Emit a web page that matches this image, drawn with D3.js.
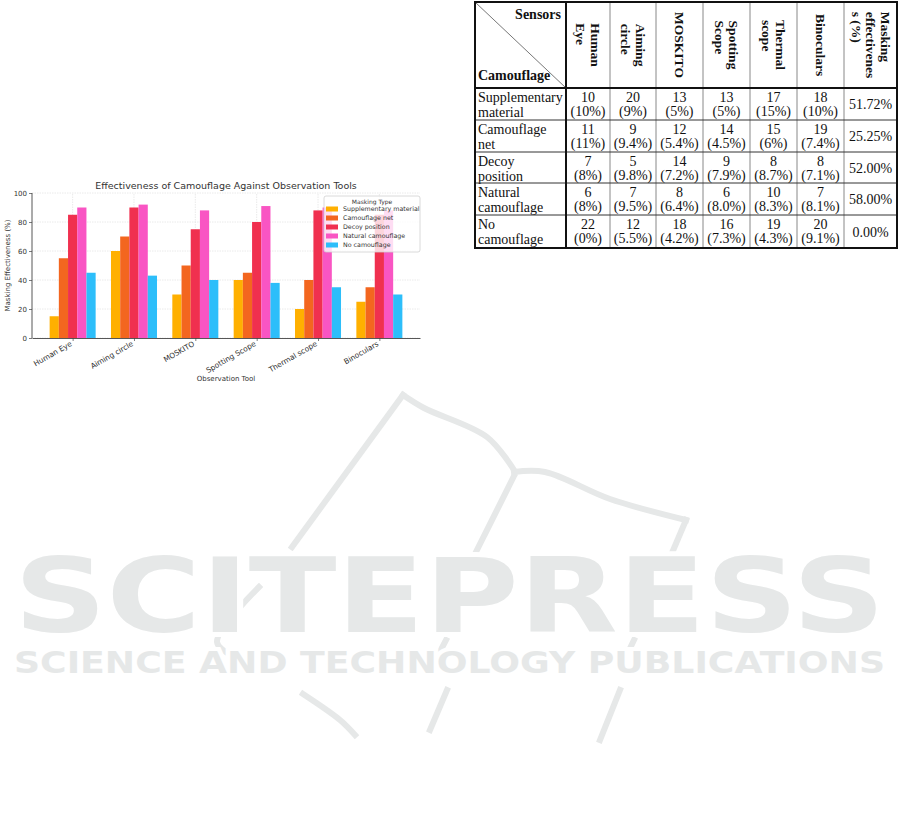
<!DOCTYPE html>
<html>
<head>
<meta charset="utf-8">
<script src="https://cdn.jsdelivr.net/npm/d3@7/dist/d3.min.js"></script>
<style>
  html, body { margin: 0; padding: 0; background: #fff; }
  svg { display: block; }
</style>
</head>
<body>
<svg id="page" width="901" height="822"></svg>
<script>
// ---------------- DATA ----------------
const tools = ["Human Eye", "Aiming circle", "MOSKITO", "Spotting Scope", "Thermal scope", "Binoculars"];
const maskingTypes = ["Supplementary material", "Camouflage net", "Decoy position", "Natural camouflage", "No camouflage"];
const supplementaryMaterial = [15, 60, 30, 40, 20, 25];
const camouflageNet = [55, 70, 50, 45, 40, 35];
const decoyPosition = [85, 90, 75, 80, 88, 85];
const naturalCamouflage = [90, 92, 88, 91, 90, 88];
const noCamouflage = [45, 43, 40, 38, 35, 30];
const yTicks = [0, 20, 40, 60, 80, 100];
const seriesColors = ["#FFB000", "#F3661F", "#F0304F", "#F955C3", "#2DBEFA"];

// Table data
const sensorHeaders = [["Human", "Eye"], ["Aiming", "circle"], ["MOSKITO"], ["Spotting", "Scope"], ["Thermal", "scope"], ["Binoculars"], ["Masking", "effectivenes", "s (%)"]];
const camouflageRows = [["Supplementary", "material"], ["Camouflage", "net"], ["Decoy", "position"], ["Natural", "camouflage"], ["No", "camouflage"]];
const countsSupplementary = ["10", "20", "13", "13", "17", "18"];
const countsCamoNet = ["11", "9", "12", "14", "15", "19"];
const countsDecoy = ["7", "5", "14", "9", "8", "8"];
const countsNatural = ["6", "7", "8", "6", "10", "7"];
const countsNone = ["22", "12", "18", "16", "19", "20"];
const pctSupplementary = ["(10%)", "(9%)", "(5%)", "(5%)", "(15%)", "(10%)"];
const pctCamoNet = ["(11%)", "(9.4%)", "(5.4%)", "(4.5%)", "(6%)", "(7.4%)"];
const pctDecoy = ["(8%)", "(9.8%)", "(7.2%)", "(7.9%)", "(8.7%)", "(7.1%)"];
const pctNatural = ["(8%)", "(9.5%)", "(6.4%)", "(8.0%)", "(8.3%)", "(8.1%)"];
const pctNone = ["(0%)", "(5.5%)", "(4.2%)", "(7.3%)", "(4.3%)", "(9.1%)"];
const maskingEffectiveness = ["51.72%", "25.25%", "52.00%", "58.00%", "0.00%"];

const series = [supplementaryMaterial, camouflageNet, decoyPosition, naturalCamouflage, noCamouflage];
const tableCounts = [countsSupplementary, countsCamoNet, countsDecoy, countsNatural, countsNone];
const tablePcts = [pctSupplementary, pctCamoNet, pctDecoy, pctNatural, pctNone];

const svg = d3.select("#page");
svg.append("rect").attr("width", 901).attr("height", 822).attr("fill", "#fff");

// ---------------- WATERMARK ----------------
const wm = svg.append("g").attr("class", "watermark");
const wmColor = "#e6e8e8";
const logoLines = [
  [[292, 547], [403, 395]],
  [[403, 395], [424, 408], [487, 437], [514, 470]],
  [[514, 472], [545, 472], [610, 499], [686, 520]],
  [[686, 520], [669, 560]],
  [[514, 476], [472, 560]],
  [[634, 640], [622, 665]],
  [[446, 640], [433, 665]],
  [[259, 587], [217, 642], [234, 656], [257, 660]],
  [[620, 690], [600, 740]],
  [[447, 690], [430, 730]],
  [[303, 694], [340, 720], [355, 735]]
];
const lineGen = d3.line().curve(d3.curveCatmullRom);
wm.selectAll("path.logo").data(logoLines).join("path")
  .attr("class", "logo")
  .attr("d", d => lineGen(d))
  .attr("fill", "none").attr("stroke", wmColor).attr("stroke-width", 6).attr("stroke-linecap", "square");
wm.append("text")
  .attr("x", 14).attr("y", 632)
  .attr("textLength", 871).attr("lengthAdjust", "spacingAndGlyphs")
  .style("font-family", "DejaVu Sans").style("font-weight", "bold").style("font-size", "104px")
  .attr("fill", wmColor).attr("stroke", "#fff").attr("stroke-width", 10).attr("paint-order", "stroke")
  .text("SCITEPRESS");
wm.append("text")
  .attr("x", 14).attr("y", 673)
  .attr("textLength", 871).attr("lengthAdjust", "spacingAndGlyphs")
  .style("font-family", "DejaVu Sans").style("font-weight", "bold").style("font-size", "31px")
  .attr("fill", wmColor).attr("stroke", "#fff").attr("stroke-width", 8).attr("paint-order", "stroke")
  .text("SCIENCE AND TECHNOLOGY PUBLICATIONS");

// ---------------- BAR CHART ----------------
const barW = 0.15;
const x = d3.scaleLinear().domain([-0.6625, 5.6625]).range([32, 420]);
const y = d3.scaleLinear().domain([0, 100]).range([338, 193]);
const chart = svg.append("g").style("font-family", "DejaVu Sans");

// grid
chart.append("g").selectAll("line").data(yTicks).join("line")
  .attr("x1", x.range()[0]).attr("x2", x.range()[1])
  .attr("y1", d => y(d)).attr("y2", d => y(d))
  .attr("stroke", "#e4e4e4").attr("stroke-width", 0.8).attr("stroke-dasharray", "1.5,1");
chart.append("g").selectAll("line").data(tools.map((t, i) => i)).join("line")
  .attr("x1", d => x(d)).attr("x2", d => x(d))
  .attr("y1", y(0)).attr("y2", y(100))
  .attr("stroke", "#e4e4e4").attr("stroke-width", 0.8).attr("stroke-dasharray", "1.5,1");

// bars
series.forEach((vals, k) => {
  chart.append("g").selectAll("rect").data(vals).join("rect")
    .attr("x", (d, i) => x(i + (k - 2) * barW - barW / 2))
    .attr("width", x(barW) - x(0))
    .attr("y", d => y(d))
    .attr("height", d => y(0) - y(d))
    .attr("fill", seriesColors[k]);
});

// axes
const yAxis = chart.append("g").attr("transform", `translate(${x.range()[0]},0)`)
  .call(d3.axisLeft(y).tickValues(yTicks).tickSize(3).tickPadding(2));
const xAxis = chart.append("g").attr("transform", `translate(0,${y(0)})`)
  .call(d3.axisBottom(x).tickValues(tools.map((t, i) => i)).tickFormat((d) => tools[d]).tickSize(3).tickPadding(2).tickSizeOuter(0));
[yAxis, xAxis].forEach(a => {
  a.select(".domain").attr("stroke", "#444").attr("stroke-width", 0.9);
  a.selectAll(".tick line").attr("stroke", "#444").attr("stroke-width", 0.7);
  a.selectAll(".tick text").attr("fill", "#333").style("font-family", "DejaVu Sans");
});
yAxis.selectAll(".tick text").style("font-size", "7px");
yAxis.select(".domain").attr("d", `M-0,${y(100)}V${y(0)}`);
xAxis.selectAll(".tick text")
  .style("font-size", "7.4px")
  .attr("text-anchor", "end")
  .attr("transform", "translate(-2,5) rotate(-30)")
  .attr("dy", "0.35em").attr("y", 0).attr("x", 0);

// titles
chart.append("text").attr("x", (x.range()[0] + x.range()[1]) / 2).attr("y", 189)
  .attr("text-anchor", "middle").attr("fill", "#333").style("font-size", "9.5px")
  .text("Effectiveness of Camouflage Against Observation Tools");
chart.append("text").attr("x", (x.range()[0] + x.range()[1]) / 2).attr("y", 381)
  .attr("text-anchor", "middle").attr("fill", "#333").style("font-size", "7px")
  .text("Observation Tool");
chart.append("text").attr("transform", `translate(10,${(y(0) + y(100)) / 2}) rotate(-90)`)
  .attr("text-anchor", "middle").attr("fill", "#333").style("font-size", "7px")
  .text("Masking Effectiveness (%)");

// legend
const lg = chart.append("g").attr("transform", "translate(324,196)");
lg.append("rect").attr("width", 96).attr("height", 56).attr("rx", 2)
  .attr("fill", "#fff").attr("fill-opacity", 0.8).attr("stroke", "#d0d0d0").attr("stroke-width", 0.8);
lg.append("text").attr("x", 48).attr("y", 7.5).attr("text-anchor", "middle")
  .attr("fill", "#333").style("font-size", "6px").text("Masking Type");
const lgItems = lg.selectAll("g.item").data(maskingTypes).join("g").attr("class", "item")
  .attr("transform", (d, i) => `translate(0,${13 + i * 9})`);
lgItems.append("rect").attr("x", 2).attr("y", -2.5).attr("width", 12).attr("height", 5)
  .attr("fill", (d, i) => seriesColors[i]);
lgItems.append("text").attr("x", 19).attr("y", 2.2).attr("fill", "#333")
  .style("font-size", "6.3px").text(d => d);

// ---------------- TABLE ----------------
const colEdges = [475, 566, 610, 656, 703, 750, 797, 844, 897];
const rowEdges = [2, 88, 120, 152, 183, 215, 248];
const tbl = svg.append("g").style("font-family", "Liberation Serif, Times New Roman, serif").attr("fill", "#111");

// header first cell
tbl.append("line").attr("x1", colEdges[0]).attr("y1", rowEdges[0]).attr("x2", colEdges[1]).attr("y2", rowEdges[1])
  .attr("stroke", "#777").attr("stroke-width", 1);
tbl.append("text").attr("x", colEdges[1] - 5).attr("y", 19).attr("text-anchor", "end")
  .style("font-weight", "bold").style("font-size", "14px").text("Sensors");
tbl.append("text").attr("x", colEdges[0] + 3).attr("y", 80)
  .style("font-weight", "bold").style("font-size", "14px").text("Camouflage");

// rotated headers
sensorHeaders.forEach((lines, j) => {
  const cx = (colEdges[j + 1] + colEdges[j + 2]) / 2;
  const cy = (rowEdges[0] + rowEdges[1]) / 2;
  const g = tbl.append("g").attr("transform", `translate(${cx},${cy}) rotate(90)`);
  const lh = 14.5;
  const n = lines.length;
  const texts = lines.map((ln, i) => g.append("text")
    .attr("y", (i - (n - 1) / 2) * lh + 4.5)
    .style("font-weight", "bold").style("font-size", "13.5px").text(ln));
  const maxLen = d3.max(texts, t => t.node().getComputedTextLength());
  texts.forEach(t => t.attr("x", -maxLen / 2));
});

// body rows
camouflageRows.forEach((lines, r) => {
  const top = rowEdges[r + 1];
  lines.forEach((ln, i) => tbl.append("text").attr("x", colEdges[0] + 3).attr("y", top + 13.5 + i * 15)
    .style("font-size", "14px").text(ln));
  tableCounts[r].forEach((c, j) => {
    const cx = (colEdges[j + 1] + colEdges[j + 2]) / 2;
    tbl.append("text").attr("x", cx).attr("y", top + 13.5).attr("text-anchor", "middle").style("font-size", "14px").text(c);
    tbl.append("text").attr("x", cx).attr("y", top + 28).attr("text-anchor", "middle").style("font-size", "14px").text(tablePcts[r][j]);
  });
  tbl.append("text").attr("x", (colEdges[7] + colEdges[8]) / 2).attr("y", (rowEdges[r + 1] + rowEdges[r + 2]) / 2 + 5)
    .attr("text-anchor", "middle").style("font-size", "14px").text(maskingEffectiveness[r]);
});

// grid lines
tbl.append("g").selectAll("line").data(colEdges.slice(2, 8)).join("line")
  .attr("x1", d => d).attr("x2", d => d).attr("y1", rowEdges[0]).attr("y2", rowEdges[6])
  .attr("stroke", "#888").attr("stroke-width", 1);
tbl.append("g").selectAll("line").data(rowEdges.slice(2, 6)).join("line")
  .attr("x1", colEdges[0]).attr("x2", colEdges[8]).attr("y1", d => d).attr("y2", d => d)
  .attr("stroke", "#333").attr("stroke-width", 1);
tbl.append("line").attr("x1", colEdges[0]).attr("x2", colEdges[8]).attr("y1", rowEdges[1]).attr("y2", rowEdges[1])
  .attr("stroke", "#111").attr("stroke-width", 2);
tbl.append("line").attr("x1", colEdges[1]).attr("x2", colEdges[1]).attr("y1", rowEdges[0]).attr("y2", rowEdges[6])
  .attr("stroke", "#111").attr("stroke-width", 2);
tbl.append("rect").attr("x", colEdges[0]).attr("y", rowEdges[0])
  .attr("width", colEdges[8] - colEdges[0]).attr("height", rowEdges[6] - rowEdges[0])
  .attr("fill", "none").attr("stroke", "#111").attr("stroke-width", 2);
</script>
</body>
</html>
